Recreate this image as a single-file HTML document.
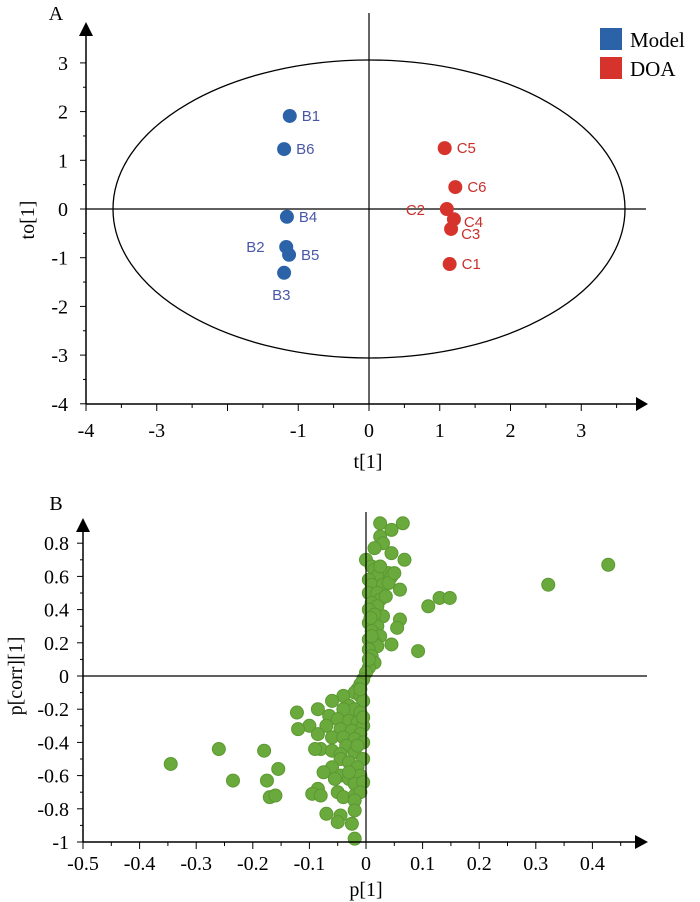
<!DOCTYPE html>
<html><head><meta charset="utf-8"><style>
html,body{margin:0;padding:0;background:#fff;}
svg{display:block;}
text{font-family:"Liberation Serif",serif;}
.sans{font-family:"Liberation Sans",sans-serif;}
</style></head><body>
<svg id="chart" width="700" height="902" viewBox="0 0 700 902" xmlns="http://www.w3.org/2000/svg">
<g id="pa"></g>
<g id="pb"></g>
</svg>
<script>
// Panel A data
const sampleLabels = ["B1","B6","B4","B2","B5","B3","C5","C6","C2","C4","C3","C1"];
const sampleGroup = ["Model","Model","Model","Model","Model","Model","DOA","DOA","DOA","DOA","DOA","DOA"];
const sampleT = [-1.12,-1.20,-1.16,-1.17,-1.13,-1.20,1.07,1.22,1.10,1.20,1.16,1.14];
const sampleTo = [1.91,1.23,-0.16,-0.78,-0.94,-1.31,1.25,0.45,0.00,-0.21,-0.41,-1.13];
const xTicksA = [-4,-3,-2,-1,0,1,2,3];
const xTickLabelsA = ["-4","-3","","-1","0","1","2","3"];
const yTicksA = [-4,-3,-2,-1,0,1,2,3];
const legendGroups = ["Model","DOA"];
// Panel B data
const pVals = [0.025,0.065,0.045,0.025,0.03,0.015,0.045,0.068,0.0,0.01,0.015,0.03,0.04,0.045,0.02,0.005,0.01,0.03,0.06,0.04,0.005,0.02,0.025,0.01,0.02,0.005,0.03,0.015,0.06,0.055,0.005,0.02,0.01,0.025,0.005,0.015,0.045,0.02,0.005,0.01,0.015,0.005,0.0,0.005,0.01,0.035,0.11,0.13,0.148,0.092,0.322,0.428,0.025,0.05,0.008,
-0.005,-0.01,-0.015,-0.02,-0.01,-0.04,-0.06,-0.005,-0.03,-0.02,-0.01,-0.04,-0.085,-0.122,-0.065,-0.05,-0.03,-0.015,-0.005,-0.1,-0.12,-0.07,-0.045,-0.025,-0.01,-0.085,-0.06,-0.04,-0.02,-0.005,-0.035,-0.08,-0.09,-0.06,-0.045,-0.02,-0.005,-0.045,-0.03,-0.015,-0.06,-0.075,-0.045,-0.03,-0.01,-0.055,-0.02,-0.005,-0.085,-0.095,-0.08,-0.05,-0.04,-0.02,-0.01,-0.02,-0.07,-0.045,-0.02,-0.05,-0.025,-0.02,-0.345,-0.26,-0.235,-0.18,-0.175,-0.155,-0.17,-0.16,-0.01,-0.005,-0.015,-0.03];
const pCorrVals = [0.92,0.92,0.88,0.84,0.8,0.77,0.74,0.7,0.7,0.66,0.64,0.63,0.62,0.6,0.6,0.58,0.55,0.55,0.52,0.56,0.5,0.5,0.46,0.44,0.42,0.4,0.36,0.37,0.34,0.29,0.32,0.3,0.27,0.24,0.22,0.2,0.19,0.18,0.16,0.12,0.08,0.05,0.02,0.1,0.24,0.48,0.42,0.47,0.47,0.15,0.55,0.67,0.66,0.62,0.35,
-0.02,-0.05,-0.08,-0.1,-0.12,-0.12,-0.15,-0.15,-0.18,-0.2,-0.22,-0.2,-0.2,-0.22,-0.24,-0.26,-0.27,-0.28,-0.3,-0.3,-0.32,-0.3,-0.32,-0.33,-0.35,-0.35,-0.37,-0.37,-0.38,-0.4,-0.42,-0.44,-0.44,-0.45,-0.47,-0.46,-0.5,-0.5,-0.52,-0.55,-0.55,-0.58,-0.6,-0.62,-0.6,-0.62,-0.65,-0.64,-0.68,-0.71,-0.72,-0.7,-0.73,-0.72,-0.7,-0.75,-0.83,-0.84,-0.81,-0.88,-0.89,-0.98,-0.53,-0.44,-0.63,-0.45,-0.63,-0.56,-0.73,-0.72,-0.08,-0.25,-0.42,-0.58];
const xTicksB = [-0.5,-0.4,-0.3,-0.2,-0.1,0,0.1,0.2,0.3,0.4];
const xTickLabelsB = ["-0.5","-0.4","-0.3","-0.2","-0.1","0","0.1","0.2","0.3","0.4"];
const yTicksB = [-1,-0.8,-0.6,-0.4,-0.2,0,0.2,0.4,0.6,0.8];
const yTickLabelsB = ["-1","-0.8","-0.6","-0.4","-0.2","0","0.2","0.4","0.6","0.8"];

const NS="http://www.w3.org/2000/svg";
function mk(parent,tag,attrs,txt){const e=document.createElementNS(NS,tag);for(const k in attrs)e.setAttribute(k,attrs[k]);if(txt!==undefined)e.textContent=txt;parent.appendChild(e);return e;}

// ---------- Panel A ----------
const pa=document.getElementById('pa');
const xA=v=>369+v*70.75, yA=v=>209-v*48.7;
let e;
e=mk(pa,'text',{x:56,y:20,'font-size':20,'text-anchor':'middle'},'A');


e=mk(pa,'ellipse',{cx:xA(0),cy:yA(0),rx:256,ry:149,fill:'none',stroke:'#000','stroke-width':1.3});


e=mk(pa,'line',{x1:369,y1:13,x2:369,y2:404,stroke:'#000','stroke-width':1.2});


e=mk(pa,'line',{x1:86,y1:209,x2:646,y2:209,stroke:'#000','stroke-width':1.2});


e=mk(pa,'line',{x1:86,y1:404,x2:636,y2:404,stroke:'#000','stroke-width':1.5});


e=mk(pa,'polygon',{points:'636,397 648,404 636,411',fill:'#000'});


e=mk(pa,'line',{x1:86,y1:404,x2:86,y2:32,stroke:'#000','stroke-width':1.5});


e=mk(pa,'polygon',{points:'79,36 86,22 93,36',fill:'#000'});


for(let v=-4;v<=3.5;v+=0.5){
  const maj=Number.isInteger(v);
  e=mk(pa,'line',{x1:xA(v),y1:404,x2:xA(v),y2:404+(maj?7:4),stroke:'#000','stroke-width':1});
  
  
}
xTicksA.forEach((v,i)=>{
  e=mk(pa,'text',{x:xA(v),y:437,'font-size':20,'text-anchor':'middle'},xTickLabelsA[i]);
  
  
});
for(let v=-4;v<=3;v+=0.5){
  const maj=Number.isInteger(v);
  e=mk(pa,'line',{x1:86,y1:yA(v),x2:86-(maj?6:3),y2:yA(v),stroke:'#000','stroke-width':1});
  
  
}
yTicksA.forEach(v=>{
  e=mk(pa,'text',{x:68,y:yA(v)+7,'font-size':20,'text-anchor':'end'},String(v));
  
  
});
e=mk(pa,'text',{x:368,y:468,'font-size':20,'text-anchor':'middle'},'t[1]');


e=mk(pa,'text',{x:0,y:0,'font-size':20,'text-anchor':'middle',transform:'translate(34,220) rotate(-90)'},'to[1]');


const dotCol={Model:'#2b62a8',DOA:'#d6332c'}, txtCol={Model:'#4a57a6',DOA:'#c8302c'};
const labelOff={B2:[-40,5],B3:[-12,27],C2:[-41,6],C4:[10,8],C3:[10,10]};
sampleLabels.forEach((lab,i)=>{
  const g=sampleGroup[i], cx=xA(sampleT[i]), cy=yA(sampleTo[i]);
  e=mk(pa,'circle',{cx:cx,cy:cy,r:7,fill:dotCol[g]});
  
  
  const off=labelOff[lab]||[12,5];
  e=mk(pa,'text',{x:cx+off[0],y:cy+off[1],'font-size':15,fill:txtCol[g],class:'sans'},lab);
  
  
});
legendGroups.forEach((g,i)=>{
  e=mk(pa,'rect',{x:600,y:28+i*29,width:22,height:22,fill:dotCol[g]});
  
  
  e=mk(pa,'text',{x:630,y:47+i*29,'font-size':21},g);
  
  
});

// ---------- Panel B ----------
const pb=document.getElementById('pb');
const xB=v=>366+v*566, yB=v=>676-v*166;
e=mk(pb,'text',{x:56,y:510,'font-size':20,'text-anchor':'middle'},'B');


pVals.forEach((v,i)=>{
  e=mk(pb,'circle',{cx:xB(v),cy:yB(pCorrVals[i]),r:6.5,fill:'#6aaa3c',stroke:'#5b9832','stroke-width':1});
  
  
});
e=mk(pb,'line',{x1:366,y1:512,x2:366,y2:842,stroke:'#000','stroke-width':1.2});


e=mk(pb,'line',{x1:83,y1:676,x2:647,y2:676,stroke:'#000','stroke-width':1.2});


e=mk(pb,'line',{x1:83,y1:842,x2:637,y2:842,stroke:'#000','stroke-width':1.5});


e=mk(pb,'polygon',{points:'635,835 648,842 635,849',fill:'#000'});


e=mk(pb,'line',{x1:83,y1:842,x2:83,y2:530,stroke:'#000','stroke-width':1.5});


e=mk(pb,'polygon',{points:'76,532 83,518 90,532',fill:'#000'});


for(let k=-10;k<=9;k++){
  const v=k*0.05, maj=(k%2===0);
  e=mk(pb,'line',{x1:xB(v),y1:842,x2:xB(v),y2:842+(maj?7:4),stroke:'#000','stroke-width':1});
  
  
}
xTicksB.forEach((v,i)=>{
  e=mk(pb,'text',{x:xB(v),y:870,'font-size':20,'text-anchor':'middle'},xTickLabelsB[i]);
  
  
});
for(let k=-10;k<=9;k++){
  const v=k*0.1, maj=(k%2===0);
  e=mk(pb,'line',{x1:83,y1:yB(v),x2:83-(maj?6:3),y2:yB(v),stroke:'#000','stroke-width':1});
  
  
}
yTicksB.forEach((v,i)=>{
  e=mk(pb,'text',{x:69,y:yB(v)+7,'font-size':20,'text-anchor':'end'},yTickLabelsB[i]);
  
  
});
e=mk(pb,'text',{x:366,y:896,'font-size':20,'text-anchor':'middle'},'p[1]');


e=mk(pb,'text',{x:0,y:0,'font-size':20,'text-anchor':'middle',transform:'translate(22,676) rotate(-90)'},'p[corr][1]');


</script>
</body></html>
